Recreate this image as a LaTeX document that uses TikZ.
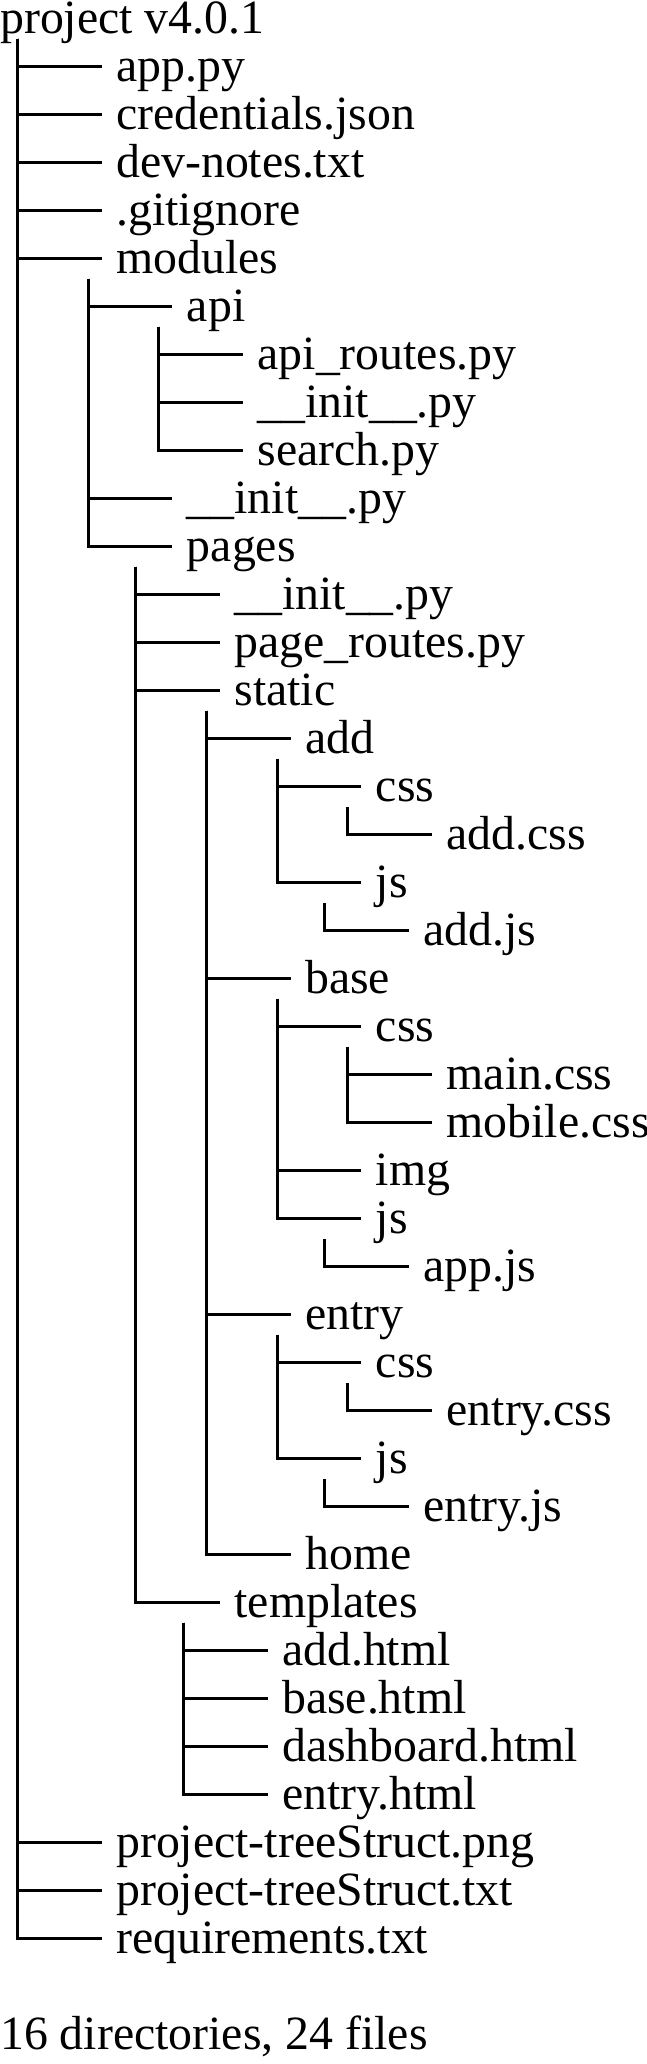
\documentclass[tikz,border=0pt]{standalone}
\usepackage{fontspec}
\setmainfont{Liberation Serif}

\begin{document}
\begin{tikzpicture}[
  x=1pt, y=1pt,
  item/.style={anchor=base west, inner sep=0pt, text height=35pt, text depth=5pt, font=\fontsize{47.8}{48}\selectfont},
  branch/.style={line width=3pt}
]
  \useasboundingbox (0,0) rectangle (646,-2064);
  \foreach \n/\x/\r/\txt in {
    root/0/0/{project v4.0.1},
    app/116/1/{app.py},
    cred/116/2/{credentials.json},
    notes/116/3/{dev-notes.txt},
    gitig/116/4/{.gitignore},
    modules/116/5/{modules},
    api/186.7/6/{api},
    apiroutes/257.4/7/{api\_routes.py},
    apiinit/257.4/8/{\_\_init\_\_.py},
    search/257.4/9/{search.py},
    modinit/186.7/10/{\_\_init\_\_.py},
    pages/186.7/11/{pages},
    pginit/234.3/12/{\_\_init\_\_.py},
    pgroutes/234.3/13/{page\_routes.py},
    static/234.3/14/{static},
    add/305/15/{add},
    addcssd/375.7/16/{css},
    addcss/446.4/17/{add.css},
    addjsd/375.7/18/{js},
    addjs/423.3/19/{add.js},
    base/305/20/{base},
    basecssd/375.7/21/{css},
    maincss/446.4/22/{main.css},
    mobilecss/446.4/23/{mobile.css},
    baseimg/375.7/24/{img},
    basejsd/375.7/25/{js},
    appjs/423.3/26/{app.js},
    entry/305/27/{entry},
    entrycssd/375.7/28/{css},
    entrycss/446.4/29/{entry.css},
    entryjsd/375.7/30/{js},
    entryjs/423.3/31/{entry.js},
    home/305/32/{home},
    templates/234.3/33/{templates},
    addhtml/281.9/34/{add.html},
    basehtml/281.9/35/{base.html},
    dashhtml/281.9/36/{dashboard.html},
    entryhtml/281.9/37/{entry.html},
    treepng/116/38/{project-treeStruct.png},
    treetxt/116/39/{project-treeStruct.txt},
    reqs/116/40/{requirements.txt},
    summary/0/42/{16 directories, 24 files}}{
    \node[item] (\n) at (\x,{-33.5-48*\r}) {\txt};
  }
  \foreach \p/\k in {
    root/app, root/cred, root/notes, root/gitig, root/modules, root/treepng, root/treetxt, root/reqs,
    modules/api, modules/modinit, modules/pages,
    api/apiroutes, api/apiinit, api/search,
    pages/pginit, pages/pgroutes, pages/static, pages/templates,
    static/add, static/base, static/entry, static/home,
    add/addcssd, add/addjsd, addcssd/addcss, addjsd/addjs,
    base/basecssd, base/baseimg, base/basejsd, basecssd/maincss, basecssd/mobilecss, basejsd/appjs,
    entry/entrycssd, entry/entryjsd, entrycssd/entrycss, entryjsd/entryjs,
    templates/addhtml, templates/basehtml, templates/dashhtml, templates/entryhtml}{
    \draw[branch] ([xshift=-98.7pt]\k.west |- \p.south) |- ([xshift=-14.3pt]\k.west);
  }
\end{tikzpicture}
\end{document}
